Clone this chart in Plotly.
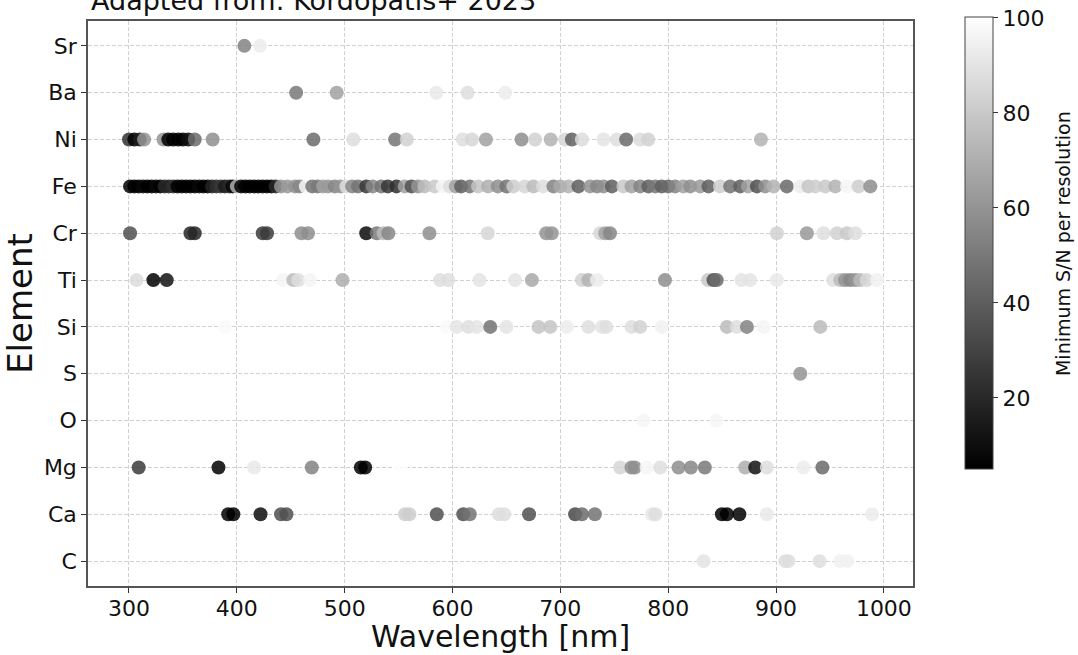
import plotly.graph_objects as go

elements = ['C', 'Ca', 'Mg', 'O', 'S', 'Si', 'Ti', 'Cr', 'Fe', 'Ni', 'Ba', 'Sr']

sr_wl = [407, 421.5]
sr_sn = [54, 93]

ba_wl = [455, 492.6, 585, 614, 649]
ba_sn = [50, 65, 92, 88, 93]

ni_wl = [300, 305, 310, 314, 332, 336.5, 341, 345.7, 350, 355, 361, 377.6, 471, 508, 546.8, 557.6,
         609.5, 618, 631, 664, 676.6, 691, 704.5, 710.7, 720, 740, 752.4, 761, 774, 781.5, 886]
ni_sn = [23, 5, 15, 60, 60, 5, 5, 5, 5, 10, 45, 58, 45, 88, 49, 83,
         88, 85, 65, 58, 83, 72, 85, 41, 87, 90, 88, 45, 87, 83, 72]

fe_wl = [301, 305, 309, 313, 317, 321, 325, 329, 333, 337, 341, 345, 349, 353, 357, 361, 365, 369, 373,
         377, 381, 385, 389, 393, 396, 400, 404, 408, 412, 416, 420, 424, 428, 432, 436,
         441, 447, 454, 458, 464, 470, 475, 480, 484.6, 490.8, 496, 501.6, 507, 512.4, 520, 526, 534, 540,
         548, 555.7, 562, 568, 574, 583.5, 591, 597.5, 603, 608, 616, 623.7, 633, 642, 650, 656.5, 667,
         675, 684, 693.6, 700, 707.5, 716.8, 727.6, 734, 740, 747.8, 758.5, 766, 774, 781.7, 788, 794, 800,
         806.5, 814, 820.4, 829.7, 837.4, 848, 857.5, 866.8, 874, 882.3, 890, 897.7, 910, 922.5, 930,
         936.4, 945.7, 955, 965.8, 976.5, 987.4]
fe_sn = [5, 5, 5, 8, 5, 5, 8, 5, 20, 18, 22, 5, 5, 5, 5, 5, 8, 5, 5,
         18, 22, 25, 15, 20, 8, 70, 5, 5, 5, 5, 5, 5, 5, 5, 20,
         60, 62, 60, 55, 97, 48, 50, 65, 62, 55, 60, 88, 55, 48, 25, 55, 48, 25,
         22, 65, 35, 60, 75, 80, 97, 88, 65, 40, 48, 78, 70, 58, 48, 82, 85,
         75, 88, 54, 68, 72, 40, 60, 55, 58, 40, 80, 65, 54, 40, 50, 40, 44,
         54, 65, 58, 62, 40, 82, 48, 40, 65, 35, 58, 72, 44, 93, 78,
         82, 80, 72, 97, 82, 58]

cr_wl = [301, 357, 361, 424, 428, 460, 466, 520, 529.8, 536, 540.5, 578.6, 632.7, 687, 692,
         737, 741.6, 746, 900.8, 928.6, 944, 956.5, 965.8, 973.5]
cr_sn = [35, 19, 19, 27, 27, 58, 58, 9, 50, 75, 55, 58, 85, 60, 60,
         85, 65, 55, 83, 62, 88, 83, 80, 88]

ti_wl = [307, 322.6, 335, 443, 452.4, 457, 468, 498, 588.5, 596, 625, 658, 673.6, 720, 726, 734,
         797, 837, 842, 845, 868, 876, 900.8, 953, 959.6, 964, 968.8, 973.5, 978, 984, 993.6]
ti_sn = [87, 5, 12, 96, 75, 88, 96, 70, 88, 88, 90, 90, 68, 83, 72, 93,
         58, 80, 35, 45, 90, 90, 92, 88, 75, 60, 55, 60, 75, 85, 95]

si_wl = [389, 594.7, 604, 614.8, 622.5, 635, 650, 679.7, 690.6, 706, 726, 738.5, 742.5,
         766, 774, 794, 854.5, 863.7, 873, 888.4, 941]
si_sn = [98, 98, 90, 88, 90, 48, 90, 78, 78, 93, 88, 90, 88,
         88, 83, 95, 75, 88, 54, 96, 75]

s_wl = [922.5]
s_sn = [60]

o_wl = [777, 844.6]
o_sn = [97, 97]

mg_wl = [309, 383, 416, 469.5, 515, 519, 552, 755.5, 766, 769, 780, 792.6, 809.6, 821, 834,
         871.4, 880.7, 891.5, 925.5, 943]
mg_sn = [27, 5, 92, 54, 5, 5, 100, 85, 58, 58, 97, 88, 58, 55, 50,
         70, 12, 88, 93, 45]

ca_wl = [392, 396.8, 422, 441, 446, 556, 560, 585.4, 610, 616, 643, 648, 671, 713.7, 720, 732,
         785, 788, 849.8, 854.5, 866, 891.5, 989]
ca_sn = [5, 5, 10, 35, 35, 82, 82, 35, 35, 48, 88, 88, 35, 32, 45, 48,
         92, 88, 5, 5, 5, 92, 93]

c_wl = [832.8, 908.5, 911.5, 940.4, 959.6, 966]
c_sn = [90, 88, 88, 88, 95, 95]

cbar_ticks = [20, 40, 60, 80, 100]

series = {
    'Sr': (sr_wl, sr_sn), 'Ba': (ba_wl, ba_sn), 'Ni': (ni_wl, ni_sn), 'Fe': (fe_wl, fe_sn),
    'Cr': (cr_wl, cr_sn), 'Ti': (ti_wl, ti_sn), 'Si': (si_wl, si_sn), 'S': (s_wl, s_sn),
    'O': (o_wl, o_sn), 'Mg': (mg_wl, mg_sn), 'Ca': (ca_wl, ca_sn), 'C': (c_wl, c_sn),
}

xs, ys, cs = [], [], []
for el, (wl, sn) in series.items():
    xs += wl
    ys += [el] * len(wl)
    cs += sn

FONT = "DejaVu Sans"

fig = go.Figure()
fig.add_trace(go.Scatter(
    x=xs, y=ys, mode='markers',
    marker=dict(
        size=14, color=cs, cmin=5, cmax=100.2, opacity=0.85,
        colorscale=[[0, 'black'], [1, 'white']],
        line=dict(width=0),
        colorbar=dict(
            x=1.063, xanchor='left', xpad=0, y=1.007, yanchor='top', ypad=0,
            len=452, lenmode='pixels', thickness=28,
            outlinewidth=1, outlinecolor='#444',
            tickvals=cbar_ticks, ticks='outside', ticklen=5,
            tickcolor='#333', tickfont=dict(family=FONT, size=22, color='#111'),
        ),
    ),
    showlegend=False, hoverinfo='x+y',
))

fig.update_layout(
    width=1078, height=655,
    margin=dict(l=88, r=165, t=21, b=69, autoexpand=False),
    paper_bgcolor='white', plot_bgcolor='white',
    font=dict(family=FONT, color='#111'),
    xaxis=dict(
        range=[262, 1027], tickvals=[300, 400, 500, 600, 700, 800, 900, 1000],
        showgrid=True, gridcolor='#d0d0d0', griddash='4px,2px', gridwidth=1,
        showline=True, linecolor='#555', linewidth=1.5, mirror=True,
        ticks='outside', ticklen=5, tickcolor='#333', automargin=False,
        ticklabelstandoff=-3,
        tickfont=dict(family=FONT, size=22, color='#111'),
        zeroline=False,
    ),
    yaxis=dict(
        type='category', categoryorder='array', categoryarray=elements,
        range=[-0.53, 11.53], automargin=False,
        showgrid=True, gridcolor='#d0d0d0', griddash='4px,2px', gridwidth=1,
        showline=True, linecolor='#555', linewidth=1.5, mirror=True,
        ticks='outside', ticklen=5, tickcolor='#333',
        tickfont=dict(family=FONT, size=22, color='#111'),
        title=dict(text='Element', font=dict(family=FONT, size=34, color='#111'), standoff=6),
        zeroline=False,
    ),
    annotations=[
        dict(
            text='Adapted from: Kordopatis+ 2023', xref='paper', yref='paper',
            x=0.001, y=1.0053, xanchor='left', yanchor='bottom', showarrow=False,
            font=dict(family=FONT, size=27, color='#111'),
        ),
        dict(
            text='Wavelength [nm]', xref='paper', yref='paper',
            x=0.5, y=-0.122, xanchor='center', yanchor='bottom', showarrow=False,
            borderpad=0, font=dict(family=FONT, size=30, color='#111'),
        ),
        dict(
            text='Minimum S/N per resolution', xref='paper', yref='paper',
            x=1.1818, y=0.607, xanchor='center', yanchor='middle', showarrow=False,
            textangle=-90, font=dict(family=FONT, size=19, color='#111'),
        ),
    ],
)

fig.write_html("out.html", config={'displayModeBar': False},
               post_script="document.body.style.margin='0px';")
